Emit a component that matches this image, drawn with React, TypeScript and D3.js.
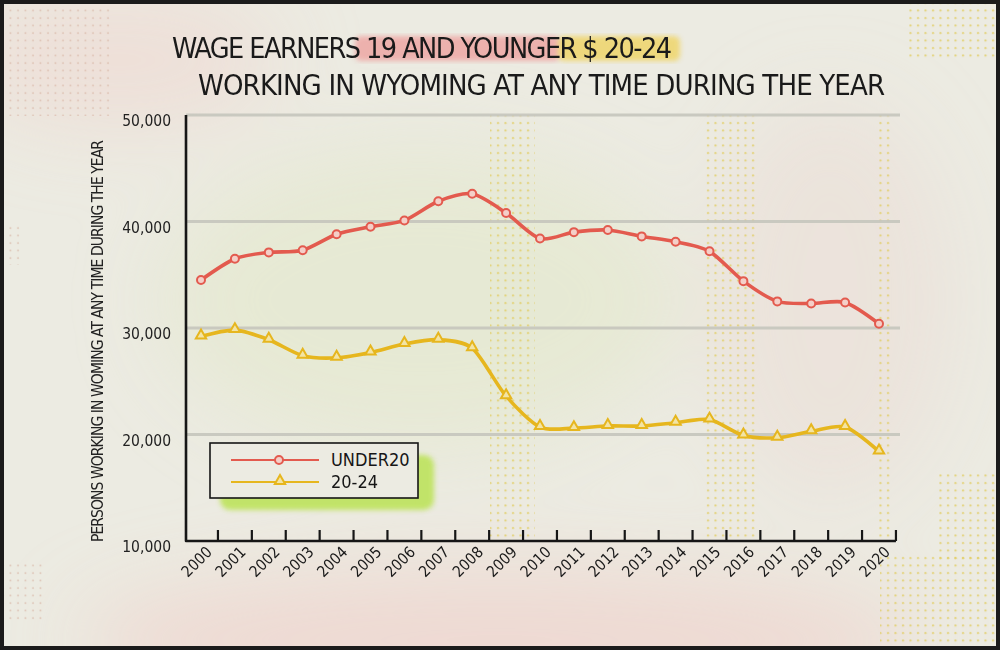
import React, { useEffect, useRef } from 'react';
import * as d3 from 'd3';

const years = [2000, 2001, 2002, 2003, 2004, 2005, 2006, 2007, 2008, 2009, 2010,
  2011, 2012, 2013, 2014, 2015, 2016, 2017, 2018, 2019, 2020];

const under20 = [34500, 36500, 37100, 37300, 38800, 39500, 40100, 41900, 42600, 40800, 38400,
  39000, 39200, 38600, 38100, 37200, 34400, 32500, 32300, 32400, 30400];

const age20to24 = [29200, 29800, 28900, 27400, 27200, 27700, 28500, 28900, 28100, 23600, 20700,
  20600, 20800, 20800, 21100, 21400, 19900, 19700, 20300, 20700, 18400];

const yTicks = [10000, 20000, 30000, 40000, 50000];

const titleLine1 = 'WAGE EARNERS 19 AND YOUNGER $ 20-24';
const titleLine2 = 'WORKING IN WYOMING AT ANY TIME DURING THE  YEAR';
const yTitle = 'PERSONS WORKING IN WOMING AT ANY TIME DURING THE YEAR';
const seriesNames = ['UNDER20', '20-24'];

const RED = '#e35a4e';
const YELLOW = '#e6b61e';
const BG = '#ecebe2';
const HAND = '"Liberation Sans Narrow", "DejaVu Sans Condensed", sans-serif';

const App = () => {
  const ref = useRef<SVGSVGElement>(null);

  useEffect(() => {
    if (!ref.current) return;
    const svg = d3.select(ref.current);
    svg.selectAll('*').remove();

    const x = d3.scaleLinear().domain([2000, 2020]).range([201, 879]);
    const y = d3.scaleLinear().domain([10000, 50000]).range([541, 115]);
    const step = x(2001) - x(2000);

    const defs = svg.append('defs');
    defs.append('filter').attr('id', 'blur').append('feGaussianBlur').attr('stdDeviation', 40);
    defs.append('filter').attr('id', 'soft').append('feGaussianBlur').attr('stdDeviation', 2.5);
    const dots = defs.append('pattern').attr('id', 'dots').attr('patternUnits', 'userSpaceOnUse')
      .attr('width', 7.5).attr('height', 7.5);
    dots.append('circle').attr('cx', 3).attr('cy', 3).attr('r', 1.1).attr('fill', '#e2cd62');
    const dotsPink = defs.append('pattern').attr('id', 'dotsPink').attr('patternUnits', 'userSpaceOnUse')
      .attr('width', 7.5).attr('height', 7.5);
    dotsPink.append('circle').attr('cx', 3).attr('cy', 3).attr('r', 0.9).attr('fill', '#d9b7a6');
    const hatch = defs.append('pattern').attr('id', 'hatch').attr('patternUnits', 'userSpaceOnUse')
      .attr('width', 5).attr('height', 5).attr('patternTransform', 'rotate(40)');
    hatch.append('rect').attr('width', 5).attr('height', 5).attr('fill', '#c9e86a');
    hatch.append('line').attr('x1', 0).attr('y1', 0).attr('x2', 0).attr('y2', 5)
      .attr('stroke', '#9fd630').attr('stroke-width', 3);

    // paper
    svg.append('rect').attr('width', 1000).attr('height', 650).attr('fill', BG);
    const wash = svg.append('g').attr('filter', 'url(#blur)');
    wash.append('ellipse').attr('cx', 500).attr('cy', 640).attr('rx', 420).attr('ry', 70)
      .attr('fill', '#f0d2cc').attr('opacity', 0.7);
    wash.append('ellipse').attr('cx', 120).attr('cy', 60).attr('rx', 160).attr('ry', 70)
      .attr('fill', '#efd6d0').attr('opacity', 0.5);
    wash.append('ellipse').attr('cx', 420).attr('cy', 300).attr('rx', 260).attr('ry', 150)
      .attr('fill', '#e4e8cf').attr('opacity', 0.7);
    wash.append('ellipse').attr('cx', 830).attr('cy', 300).attr('rx', 120).attr('ry', 200)
      .attr('fill', '#ecdcd6').attr('opacity', 0.5);

    // dotted bands
    const bands = [[490, 115, 45, 426], [703, 115, 52, 426], [877, 115, 16, 426],
      [880, 555, 118, 92], [935, 470, 62, 90], [905, 0, 92, 60]];
    bands.forEach(([bx, by, bw, bh]) => {
      svg.append('rect').attr('x', bx).attr('y', by).attr('width', bw).attr('height', bh)
        .attr('fill', 'url(#dots)').attr('opacity', 0.8);
    });
    [[6, 6, 105, 110], [4, 225, 20, 40], [4, 560, 40, 60]].forEach(([bx, by, bw, bh]) => {
      svg.append('rect').attr('x', bx).attr('y', by).attr('width', bw).attr('height', bh)
        .attr('fill', 'url(#dotsPink)').attr('opacity', 0.8);
    });

    // title highlights
    svg.append('rect').attr('x', 355).attr('y', 36).attr('width', 205).attr('height', 25)
      .attr('rx', 6).attr('fill', '#eea3a0').attr('opacity', 0.8).attr('filter', 'url(#soft)');
    svg.append('rect').attr('x', 558).attr('y', 36).attr('width', 122).attr('height', 25)
      .attr('rx', 6).attr('fill', '#efd56a').attr('opacity', 0.85).attr('filter', 'url(#soft)');

    svg.append('text').attr('x', 172).attr('y', 58).attr('font-size', 28.5)
      .attr('font-family', HAND).attr('fill', '#1a1a1a')
      .attr('textLength', 500).attr('lengthAdjust', 'spacing').text(titleLine1);
    svg.append('text').attr('x', 198).attr('y', 95).attr('font-size', 29)
      .attr('font-family', HAND).attr('fill', '#1a1a1a')
      .attr('textLength', 687).attr('lengthAdjust', 'spacing').text(titleLine2);

    // grid
    svg.append('g').selectAll('line').data(yTicks.slice(1)).enter().append('line')
      .attr('x1', 186).attr('x2', 900).attr('y1', d => y(d)).attr('y2', d => y(d))
      .attr('stroke', '#c6c6bd').attr('stroke-width', 3).attr('opacity', 0.9);

    // y labels
    svg.append('g').selectAll('text').data(yTicks).enter().append('text')
      .attr('x', 171).attr('y', d => y(d) + 11).attr('text-anchor', 'end')
      .attr('font-family', '"DejaVu Sans Condensed", sans-serif').attr('font-size', 15.5)
      .attr('fill', '#222').text(d => d3.format(',')(d));

    svg.append('text').attr('transform', 'translate(103,341) rotate(-90)')
      .attr('text-anchor', 'middle').attr('font-family', HAND).attr('font-size', 15.5)
      .attr('fill', '#222').attr('textLength', 402).attr('lengthAdjust', 'spacing')
      .text(yTitle);

    // axes
    svg.append('path').attr('d', `M186,${y(50000)}L186,${y(10000)}L${x(2020) + step / 2},${y(10000)}`)
      .attr('fill', 'none').attr('stroke', '#161616').attr('stroke-width', 2.6)
      .attr('stroke-linejoin', 'round');
    const xt = svg.append('g');
    years.forEach(yr => {
      const tx = x(yr) + step / 2;
      xt.append('line').attr('x1', tx).attr('x2', tx).attr('y1', y(10000)).attr('y2', y(10000) - 11)
        .attr('stroke', '#161616').attr('stroke-width', 2.2);
      xt.append('text').attr('transform', `translate(${tx - 5},${y(10000) + 12}) rotate(-45)`)
        .attr('text-anchor', 'end').attr('font-family', HAND).attr('font-size', 15.5)
        .attr('fill', '#1a1a1a').text(String(yr));
    });

    // lines
    const line = d3.line<number>().x((d, i) => x(years[i])).y(d => y(d))
      .curve(d3.curveCardinal.tension(0.2));
    svg.append('path').attr('d', line(under20)).attr('fill', 'none').attr('stroke', RED)
      .attr('stroke-width', 3.6).attr('stroke-linejoin', 'round');
    svg.append('path').attr('d', line(age20to24)).attr('fill', 'none').attr('stroke', YELLOW)
      .attr('stroke-width', 3.6).attr('stroke-linejoin', 'round');

    const tri = d3.symbol().type(d3.symbolTriangle).size(46);
    svg.append('g').selectAll('circle').data(under20).enter().append('circle')
      .attr('cx', (d, i) => x(years[i])).attr('cy', d => y(d)).attr('r', 4)
      .attr('fill', '#f4cfc8').attr('stroke', RED).attr('stroke-width', 2);
    svg.append('g').selectAll('path').data(age20to24).enter().append('path')
      .attr('d', tri()).attr('transform', (d, i) => `translate(${x(years[i])},${y(d) - 1})`)
      .attr('fill', '#f3e4a4').attr('stroke', YELLOW).attr('stroke-width', 2);

    // legend
    const lg = svg.append('g');
    lg.append('rect').attr('x', 220).attr('y', 455).attr('width', 214).attr('height', 55)
      .attr('rx', 10).attr('fill', 'url(#hatch)').attr('opacity', 0.9).attr('filter', 'url(#soft)');
    lg.append('rect').attr('x', 210).attr('y', 443).attr('width', 208).attr('height', 55)
      .attr('fill', BG).attr('stroke', '#161616').attr('stroke-width', 1.6);
    [[RED, 460], [YELLOW, 482]].forEach(([c, ly], i) => {
      lg.append('line').attr('x1', 231).attr('x2', 319).attr('y1', ly as number).attr('y2', ly as number)
        .attr('stroke', c as string).attr('stroke-width', 2.2);
      if (i === 0) {
        lg.append('circle').attr('cx', 279).attr('cy', ly as number).attr('r', 4)
          .attr('fill', '#f4cfc8').attr('stroke', RED).attr('stroke-width', 2);
      } else {
        lg.append('path').attr('d', tri()).attr('transform', `translate(280,${(ly as number) - 1})`)
          .attr('fill', '#f3e4a4').attr('stroke', YELLOW).attr('stroke-width', 2);
      }
      lg.append('text').attr('x', 331).attr('y', (ly as number) + 6).attr('font-family', HAND)
        .attr('font-size', 18).attr('fill', '#161616').text(seriesNames[i]);
    });

    // rough dark frame
    svg.append('rect').attr('x', 1.5).attr('y', 1.5).attr('width', 997).attr('height', 647)
      .attr('fill', 'none').attr('stroke', '#1b1b1b').attr('stroke-width', 5);
  }, []);

  return (
    <svg ref={ref} width={1000} height={650}
      style={{ position: 'absolute', left: 0, top: 0, display: 'block' }} />
  );
};

export default App;
